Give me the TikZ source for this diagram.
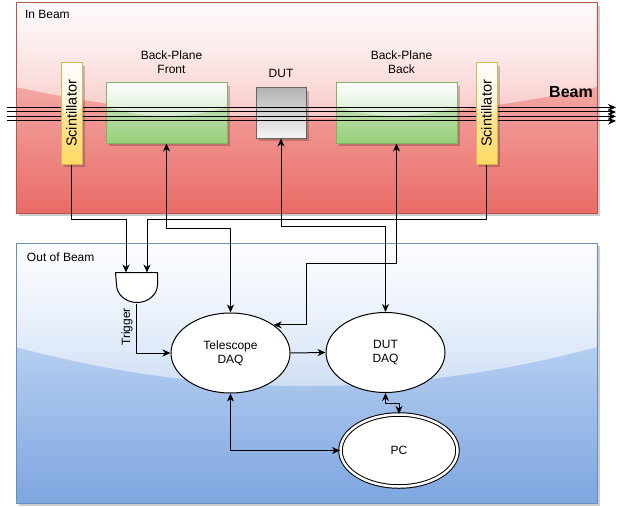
\documentclass[tikz,border=0pt]{standalone}
\usepackage{fontspec}
\setmainfont{Liberation Sans}
\usepackage{tikz}
\usetikzlibrary{shapes.geometric, arrows.meta, shadows, fadings, calc, positioning}

\definecolor{redtop}{HTML}{F8CECC}
\definecolor{redbot}{HTML}{EA6B66}
\definecolor{redline}{HTML}{B85450}
\definecolor{bluetop}{HTML}{DAE8FC}
\definecolor{bluebot}{HTML}{7EA6E0}
\definecolor{blueline}{HTML}{6C8EBF}
\definecolor{greentop}{HTML}{D5E8D4}
\definecolor{greenbot}{HTML}{97D077}
\definecolor{greenline}{HTML}{82B366}
\definecolor{yeltop}{HTML}{FFF2CC}
\definecolor{yelbot}{HTML}{FFD966}
\definecolor{yelline}{HTML}{D6B656}
\definecolor{greytop}{HTML}{B3B3B3}
\definecolor{greybot}{HTML}{F5F5F5}
\definecolor{greyline}{HTML}{666666}

\tikzfading[name=glassfade, top color=transparent!10, bottom color=transparent!90]

% white glossy cap over the upper part of a box
\newcommand{\glass}[1]{%
  \fill[white, path fading=glassfade] let \p1=(#1.north west), \p2=(#1.south east) in
    (\x1,\y1) -- (\x2,\y1) -- (\x2,{\y1+0.4*(\y2-\y1)})
    .. controls ({\x1+2/3*(\x2-\x1)},{\y1+0.6*(\y2-\y1)}) and ({\x1+1/3*(\x2-\x1)},{\y1+0.6*(\y2-\y1)}) .. (\x1,{\y1+0.4*(\y2-\y1)}) -- cycle;}

\tikzstyle{glassy} = [path picture={\glass{path picture bounding box}}]
\tikzstyle{dropshade} = [drop shadow={shadow xshift=3pt, shadow yshift=-3pt, fill=black, opacity=0.2}]
\tikzstyle{panel} = [rectangle, inner sep=0pt, minimum width=581pt, dropshade, glassy]
\tikzstyle{plane} = [rectangle, minimum width=121pt, minimum height=60pt, inner sep=0pt, draw=greenline, top color=greentop, bottom color=greenbot, dropshade, glassy]
\tikzstyle{dut} = [rectangle, minimum width=50pt, minimum height=50pt, inner sep=0pt, draw=greyline, top color=greytop, bottom color=greybot, dropshade]
\tikzstyle{scint} = [rectangle, minimum width=21pt, minimum height=101pt, inner sep=0pt, draw=yelline, top color=yeltop, bottom color=yelbot, dropshade, glassy, font=\fontsize{14.5}{16}\selectfont]
\tikzstyle{daq} = [ellipse, draw, fill=white, minimum width=119pt, minimum height=80pt, inner sep=0pt, align=center]
\tikzstyle{pcnode} = [ellipse, draw, double, double distance=2.5pt, fill=white, minimum width=117pt, minimum height=72pt, inner sep=0pt]
\tikzstyle{gatebox} = [rectangle, minimum width=41pt, minimum height=30pt, inner sep=0pt]
\tikzstyle{lbl} = [align=center, inner sep=0pt]
\tikzstyle{arrow} = [-{Stealth[length=8pt, width=7pt, inset=2.5pt]}]
\tikzstyle{biarrow} = [{Stealth[length=8pt, width=7pt, inset=2.5pt]}-{Stealth[length=8pt, width=7pt, inset=2.5pt]}]

\begin{document}
\begin{tikzpicture}[x=1pt, y=-1pt, line width=1pt, font=\fontsize{12}{14}\selectfont]
	\useasboundingbox (0,0) rectangle (626,508);

	\node (inbeam) [panel, draw=redline, top color=redtop, bottom color=redbot, minimum height=210pt] at (306.5,108) {};
	\node (outbeam) [panel, draw=blueline, top color=bluetop, bottom color=bluebot, minimum height=260pt] at (306.5,373) {};
	\node (inlbl) [lbl, below right=7.5pt and 9pt of inbeam.north west] {In Beam};
	\node (outlbl) [lbl, below right=10pt and 11pt of outbeam.north west] {Out of Beam};

	\node (bpf) [plane] at (166.5,113) {};
	\node (dut) [dut] at (281,113) {};
	\node (bpb) [plane] at (396.5,113) {};
	\node (bpflbl) [lbl] at (171.5,62) {Back-Plane\\Front};
	\node (dutlbl) [lbl] at (281,73) {DUT};
	\node (bpblbl) [lbl] at (401.5,62) {Back-Plane\\Back};
	\node (beamlbl) [lbl, font=\fontsize{16}{18}\selectfont\bfseries] at (571,92) {Beam};

	\coordinate (beamin) at (7,114.2);
	\coordinate (beamout) at (616,114.2);
	\draw [arrow] ([yshift=6.8pt]beamin) -- ([yshift=6.8pt]beamout);
	\draw [arrow] ([yshift=2.2pt]beamin) -- ([yshift=2.2pt]beamout);
	\draw [arrow] ([yshift=-2.2pt]beamin) -- ([yshift=-2.2pt]beamout);
	\draw [arrow] ([yshift=-6.8pt]beamin) -- ([yshift=-6.8pt]beamout);

	\node (scl) [scint] at (71.5,113.5) {\rotatebox{90}{Scintillator}};
	\node (scr) [scint] at (486.5,113.5) {\rotatebox{90}{Scintillator}};

	\node (gate) [gatebox] at (136.5,288) {};
	\draw [fill=white] (gate.north west) -- (gate.north east) -- ([yshift=-12pt]gate.north east)
		arc[start angle=0, end angle=-180, x radius=20.5pt, y radius=18pt] -- cycle;
	\node (triglbl) [lbl, rotate=90] at (127,327) {Trigger};

	\node (tdaq) [daq] at (230.5,353) {Telescope\\DAQ};
	\node (ddaq) [daq] at (385.5,352.5) {DUT\\DAQ};
	\node (pc) [pcnode] at (399,450.5) {PC};

	\draw [arrow] (scl.south) -- ++(0,55) -| ([xshift=-10.5pt]gate.north);
	\draw [arrow] (scr.south) -- ++(0,55) -| ([xshift=10.5pt]gate.north);
	\draw [arrow] (gate.south) |- (tdaq.west);
	\draw [biarrow] (bpf.south) -- ++(0,85) -| (tdaq.north);
	\draw [biarrow] (dut.south) -- ++(0,88) -| (ddaq.north);
	\draw [biarrow] (bpb.south) -- ++(0,120) -- ++(-90.5,0) |- (tdaq.33);
	\draw [arrow] (tdaq.east) -- (ddaq.west);
	\draw [biarrow] (ddaq.south) -- ++(0,10) -| (pc.north);
	\draw [biarrow] (tdaq.south) |- (pc.west);
\end{tikzpicture}
\end{document}
